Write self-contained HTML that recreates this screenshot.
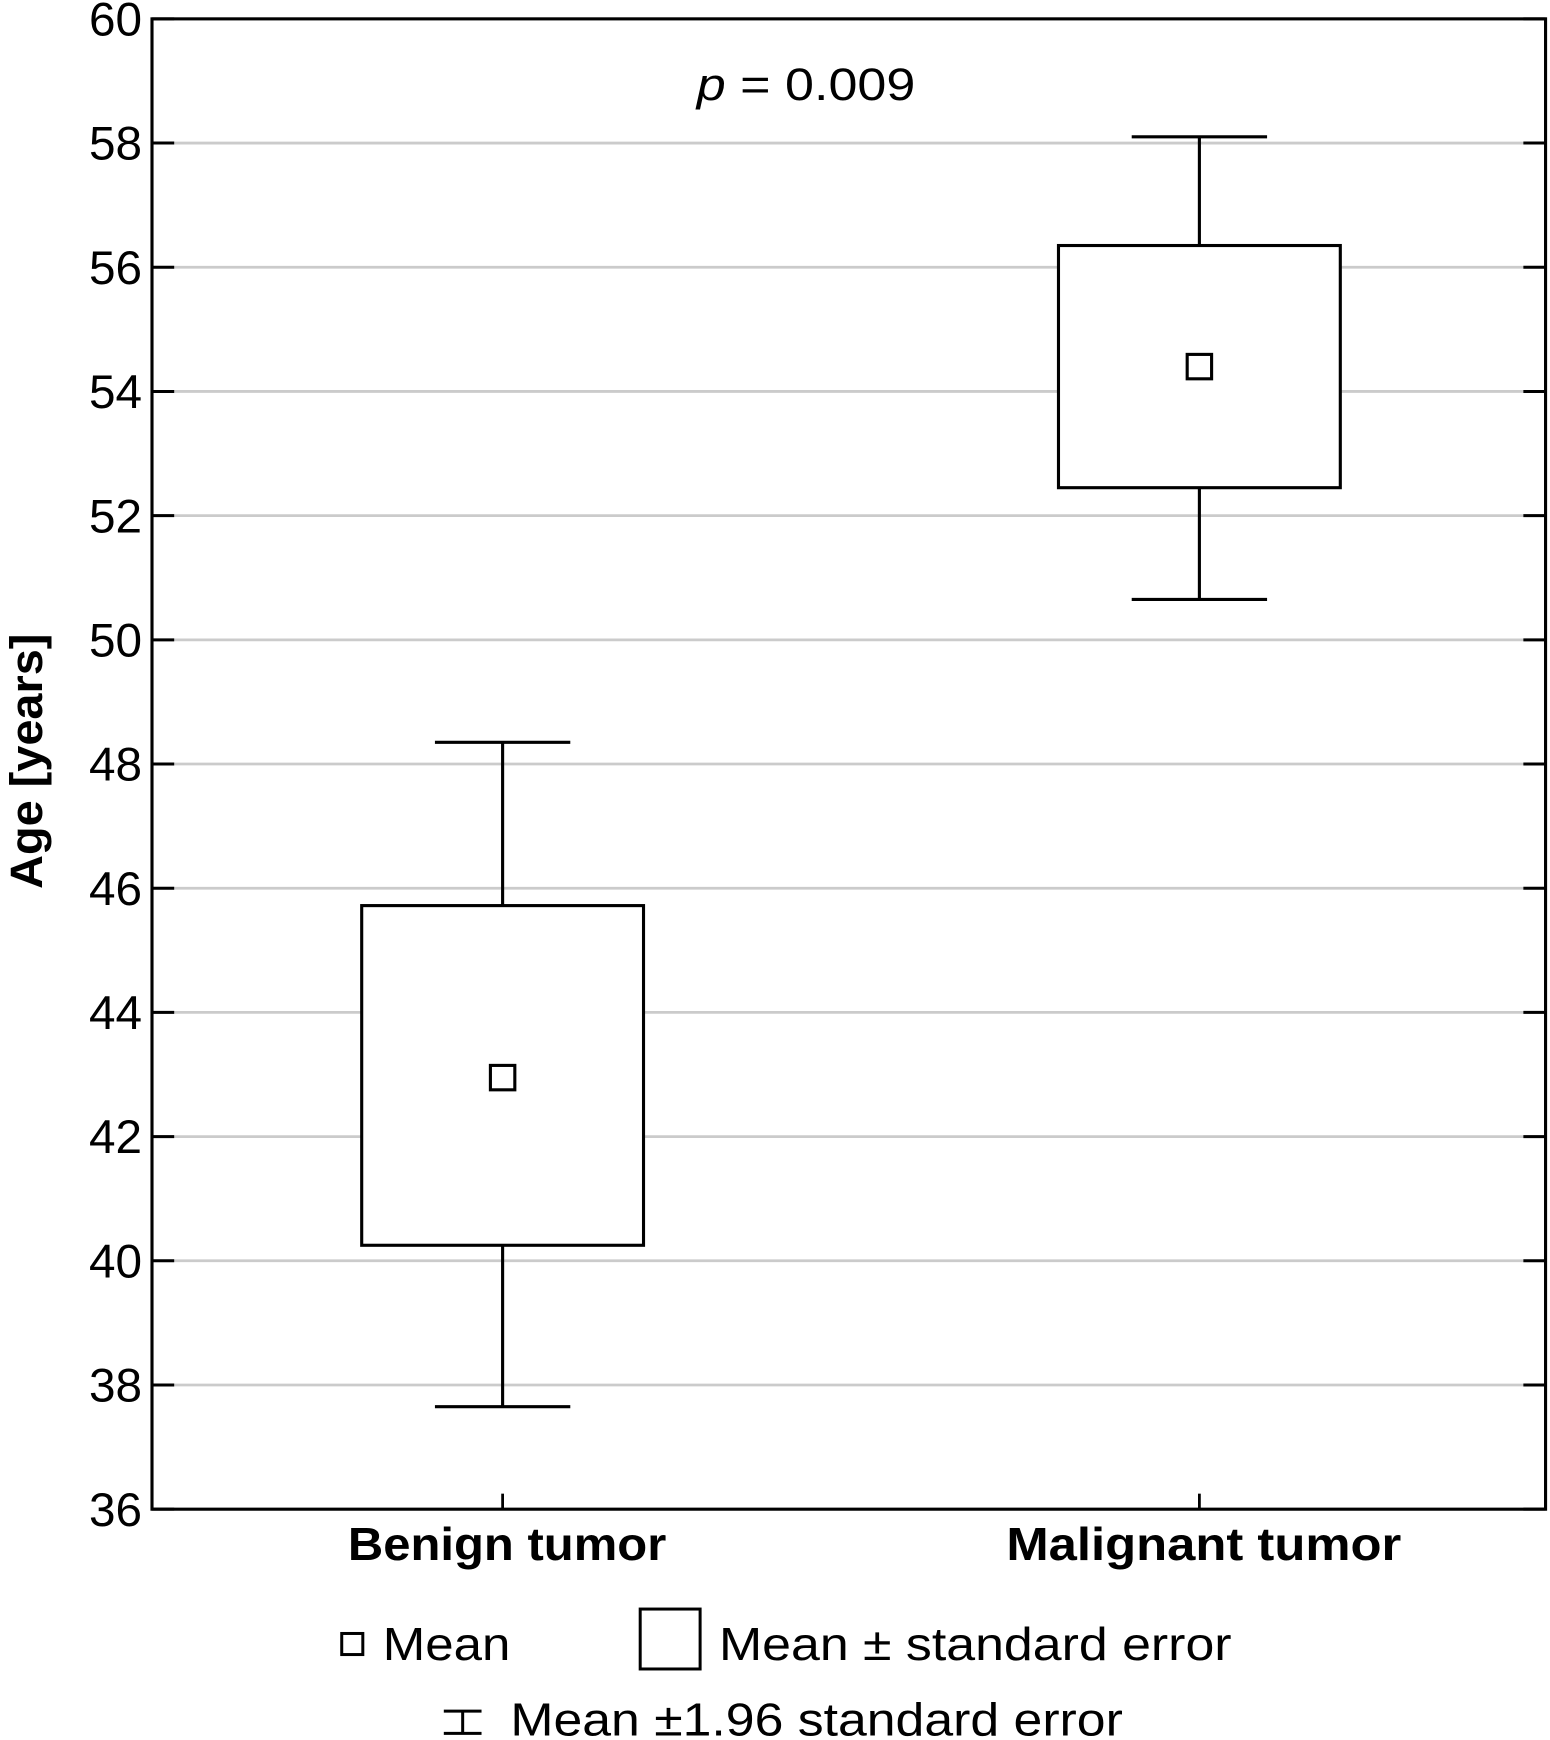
<!DOCTYPE html>
<html><head><meta charset="utf-8"><style>
html,body{margin:0;padding:0;background:#fff;}
svg{display:block;}
text{font-family:"Liberation Sans",sans-serif;fill:#000;}
</style></head><body>
<svg id="chart" width="1550" height="1740" viewBox="0 0 1397 1568" preserveAspectRatio="none" xmlns="http://www.w3.org/2000/svg">
<g id="grid"></g>
<g id="marks"></g>
<g id="axes"></g>
<text x="628" y="90" font-size="41" textLength="197" lengthAdjust="spacingAndGlyphs"><tspan font-style="italic">p</tspan> = 0.009</text>
<text transform="translate(38,686) rotate(-90)" text-anchor="middle" font-size="41" font-weight="bold" textLength="230" lengthAdjust="spacingAndGlyphs">Age [years]</text>
<g>
<rect x="308" y="1472" width="19" height="19" fill="none" stroke="#000" stroke-width="2.7"/>
<text x="345" y="1496" font-size="42" textLength="115" lengthAdjust="spacingAndGlyphs">Mean</text>
<rect x="577" y="1450" width="54" height="54" fill="none" stroke="#000" stroke-width="2.7"/>
<text x="648" y="1496" font-size="42" textLength="462" lengthAdjust="spacingAndGlyphs">Mean ± standard error</text>
<path d="M400 1542 H434 M417 1542 V1562 M400 1562 H434" stroke="#000" stroke-width="2.7" fill="none"/>
<text x="460" y="1564" font-size="42" textLength="552" lengthAdjust="spacingAndGlyphs">Mean ±1.96 standard error</text>
</g>
</svg>
<script>
const categories = ["Benign tumor", "Malignant tumor"];
const means = [42.95, 54.4];
const seHigh = [45.72, 56.35];
const seLow = [40.25, 52.45];
const ciHigh = [48.35, 58.1];
const ciLow = [37.65, 50.65];
const yTicks = [36,38,40,42,44,46,48,50,52,54,56,58,60];

const L=137,R=1393,T=17,B=1360,ymin=36,ymax=60;
const y=v=>B-(v-ymin)/(ymax-ymin)*(B-T);
const xc=[453,1081];
const labelLen=[287,356];
const x=i=>xc[i];
const NS="http://www.w3.org/2000/svg";
function mk(parent,tag,attrs){const e=document.createElementNS(NS,tag);for(const k in attrs)e.setAttribute(k,attrs[k]);parent.appendChild(e);return e;}
const grid=document.getElementById('grid'),marks=document.getElementById('marks'),axes=document.getElementById('axes');
yTicks.forEach(t=>{
  if(t>ymin&&t<ymax){const g=mk(grid,'line',{x1:L,x2:R,y1:y(t),y2:y(t),stroke:'#cbcbcb','stroke-width':2.5});
  
  }
  const tk=mk(axes,'path',{d:`M${L} ${y(t)} H${L+20} M${R-20} ${y(t)} H${R}`,stroke:'#000','stroke-width':2.7});
  
  
  const lb=mk(axes,'text',{x:128,y:y(t)+15,'text-anchor':'end','font-size':43});
  lb.textContent=t;
  
  
});
const fr=mk(axes,'rect',{x:L,y:T,width:R-L,height:B-T,fill:'none',stroke:'#000','stroke-width':2.8});


categories.forEach((c,i)=>{
  const cx=x(i),hw=127,cw=61;
  const w=mk(marks,'path',{d:`M${cx} ${y(ciHigh[i])} V${y(seHigh[i])} M${cx} ${y(seLow[i])} V${y(ciLow[i])} M${cx-cw} ${y(ciHigh[i])} H${cx+cw} M${cx-cw} ${y(ciLow[i])} H${cx+cw}`,stroke:'#000','stroke-width':2.8,fill:'none'});
  
  
  const b=mk(marks,'rect',{x:cx-hw,y:y(seHigh[i]),width:2*hw,height:y(seLow[i])-y(seHigh[i]),fill:'#fff',stroke:'#000','stroke-width':2.8});
  
  
  const m=mk(marks,'rect',{x:cx-11,y:y(means[i])-11,width:22,height:22,fill:'#fff',stroke:'#000','stroke-width':2.8});
  
  
  const tk=mk(axes,'line',{x1:cx,x2:cx,y1:B,y2:B-14,stroke:'#000','stroke-width':2.5});
  
  
  const lb=mk(axes,'text',{x:cx+4,y:1406,'text-anchor':'middle','font-size':42,'font-weight':'bold',textLength:labelLen[i],lengthAdjust:'spacingAndGlyphs'});
  lb.textContent=c;
  
  
});
</script>
</body></html>
